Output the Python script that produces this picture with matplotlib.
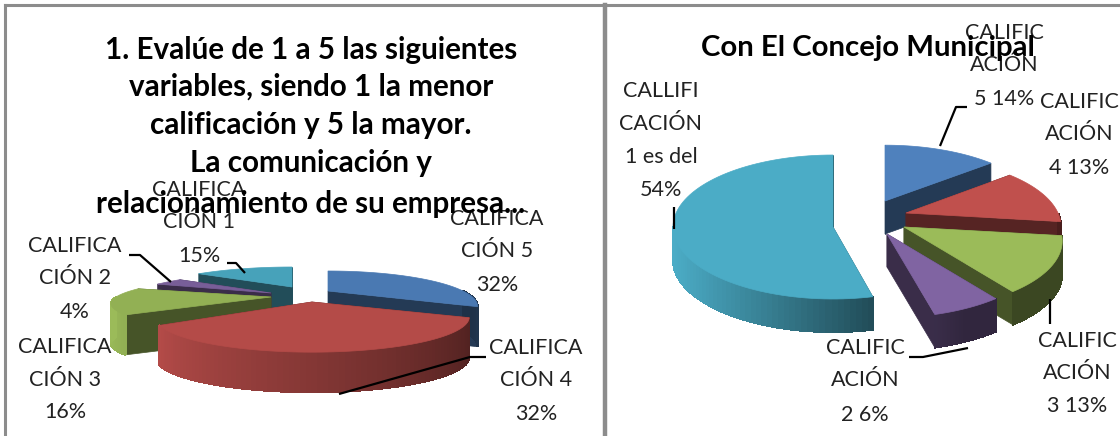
import numpy as np
import matplotlib
matplotlib.use("Agg")
import matplotlib.pyplot as plt
from matplotlib.patches import Polygon

# ---- data ----
left_title = ["1. Evalúe de 1 a 5 las siguientes", "variables, siendo 1 la menor",
              "calificación y 5 la mayor.", "La comunicación y",
              "relacionamiento de su empresa..."]
right_title = ["Con El Concejo Municipal"]
left_values = [32, 32, 16, 4, 15]      # clockwise from 12 o'clock
right_values = [14, 13, 13, 6, 54]
left_labels = [["CALIFICA", "CIÓN 5", "32%"], ["CALIFICA", "CIÓN 4", "32%"],
               ["CALIFICA", "CIÓN 3", "16%"], ["CALIFICA", "CIÓN 2", "4%"],
               ["CALIFICA", "CIÓN 1", "15%"]]
right_labels = [["CALIFIC", "ACIÓN", "5 14%"], ["CALIFIC", "ACIÓN", "4 13%"],
                ["CALIFIC", "ACIÓN", "3 13%"], ["CALIFIC", "ACIÓN", "2 6%"],
                ["CALLIFI", "CACIÓN", "1 es del", "54%"]]
colors = ["#4f81bd", "#c0504d", "#9bbb59", "#8064a2", "#4bacc6"]

# ---- layout (pixels) ----
left_geo = dict(
    apex=[(328, 291), (312, 302), (271, 297), (271, 293), (292, 287)],
    shape=[(135, 28.6, .43), (142, 28.6, .43), (155, 25, .25), (140, 28.6, .43), (143, 28.6, .43)],
    depth=40, order=[4, 3, 2, 0, 1], grad=(.62, 2.0), top=.94)
right_geo = dict(
    apex=[(885, 201), (906, 213), (904, 227), (887, 234), (833, 227)],
    shape=[(155, 67, .2), (152, 67, .2), (155, 67, .2), (155, 67, .2), (160, 72, 0.0)],
    depth=33, order=[4, 0, 1, 2, 3], grad=(.55, 1.25), top=1.0)
left_label_pos = [(497, (219, 251, 285)), (536, (348, 380, 414)), (65, (347, 380, 412)),
                  (75, (246, 278, 312)), (199, (190, 222, 256))]
right_label_pos = [(1004, (33, 65, 99)), (1079, (102, 134, 168)), (1077, (341, 373, 406)),
                   (865, (348, 380, 415)), (661, (91, 124, 157, 190))]
leaders = [[(227, 263), (236, 263), (245, 273)], [(129, 255), (140, 255), (171, 282)],
           [(486, 357), (470, 357), (339, 394)], [(967, 107), (956, 107), (940, 146)],
           [(674, 207), (674, 229)], [(1050, 299), (1050, 324)],
           [(909, 357), (923, 357), (968, 348)]]

plt.rcParams["font.family"] = ["Lato", "DejaVu Sans"]

fig = plt.figure(figsize=(11.2, 4.36), dpi=100, facecolor="white")
ax = fig.add_axes([0, 0, 1, 1])
ax.set_xlim(0, 1120)
ax.set_ylim(436, 0)
ax.axis("off")


def shade(col, f):
    return tuple(f * c for c in matplotlib.colors.to_rgb(col))


def rim(theta, apex, shape):
    rx, a, p = shape
    s_, c = np.sin(theta), -np.cos(theta)
    k = 1 / (1 - p * c)
    return apex[0] + rx * s_ * k, apex[1] + a * c * k


def draw_pie(values, geo):
    total = sum(values)
    edges = np.radians(np.cumsum([0] + list(values)) / total * 360)
    d = geo["depth"]
    g, w = geo["grad"]
    for i in geo["order"]:
        t = np.linspace(edges[i], edges[i + 1], 90)
        x, y = rim(t, geo["apex"][i], geo["shape"][i])
        ax_, ay_ = geo["apex"][i]
        dark = shade(colors[i], .45)
        for j in (0, -1):
            ax.add_patch(Polygon([(ax_, ay_), (x[j], y[j]), (x[j], y[j] + d), (ax_, ay_ + d)],
                                 fc=dark, ec=dark, lw=.5))
        for j in range(len(t) - 1):
            if np.cos(t[j]) > 0:      # back of the rim faces away from the viewer
                continue
            f = max(.38, 1 - g * (np.sin(t[j]) + 1) / w)
            col = shade(colors[i], f)
            ax.add_patch(Polygon([(x[j], y[j]), (x[j + 1], y[j + 1]),
                                  (x[j + 1], y[j + 1] + d), (x[j], y[j] + d)],
                                 fc=col, ec=col, lw=.8, antialiased=False))
        top = shade(colors[i], geo["top"])
        ax.add_patch(Polygon(np.column_stack([np.r_[ax_, x], np.r_[ay_, y]]),
                             fc=top, ec=top, lw=.5))


draw_pie(left_values, left_geo)
draw_pie(right_values, right_geo)

for pts in leaders:
    ax.plot(*zip(*pts), color="black", lw=1.6, solid_capstyle="butt")

# panel frames
frame = "#8c8c8c"
ax.plot([5, 5], [5, 436], color=frame, lw=2.2)
ax.plot([5, 1120], [5.5, 5.5], color=frame, lw=2.2)
ax.plot([605, 605], [5, 436], color=frame, lw=3.2)

for labels, pos in ((left_labels, left_label_pos), (right_labels, right_label_pos)):
    for lines, (cx, ys) in zip(labels, pos):
        for line, yy in zip(lines, ys):
            ax.text(cx, yy, line, ha="center", va="center", fontsize=15.5, color="#222222")

for line, yy in zip(left_title, (50, 87, 125, 163, 204)):
    ax.text(311, yy, line, ha="center", va="center", fontsize=21.3, fontweight="bold", color="black")
ax.text(868, 48, right_title[0], ha="center", va="center", fontsize=21.2, fontweight="bold", color="black")

fig.savefig("out.png", dpi=100)
